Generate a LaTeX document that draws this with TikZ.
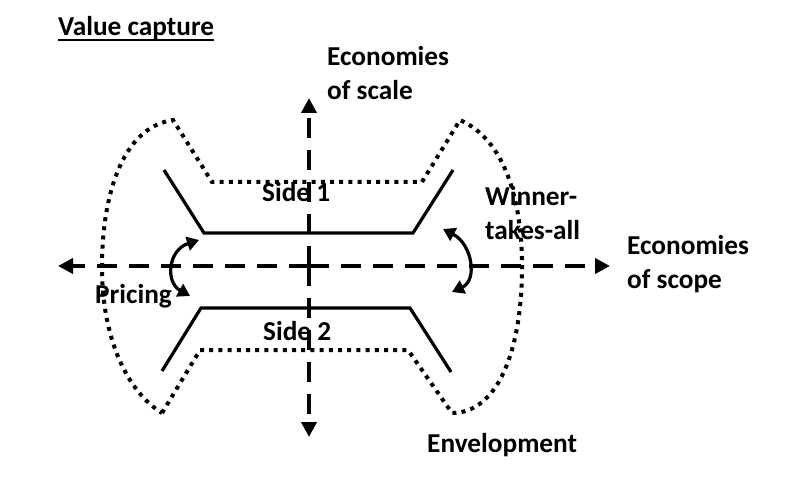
\documentclass[tikz,border=0pt]{standalone}
\usepackage{fontspec}
\setmainfont{Carlito}
\usetikzlibrary{arrows.meta}
\begin{document}
\begin{tikzpicture}[x=1pt,y=-1pt,
  lbl/.style={inner sep=0pt,anchor=base west,align=left,font=\fontsize{27.3}{34}\selectfont\bfseries},
  axis/.style={line width=4pt,dash pattern=on 20pt off 12pt,-{Triangle[length=15pt,width=15pt]}},
  solidline/.style={line width=3.2pt,line join=miter},
  env/.style={line width=4pt,dash pattern=on 4pt off 5.2pt},
  turn/.style={line width=3.2pt,{Triangle[length=12pt,width=14pt]}-{Triangle[length=12pt,width=14pt]}}]
\useasboundingbox (0,0) rectangle (794,494);
% axes
\coordinate (o) at (309,266);
\coordinate (xl) at (58,266);
\coordinate (xr) at (610,266);
\coordinate (yt) at (309,98);
\coordinate (yb) at (309,437);
\draw[axis] (o) -- (xl);
\draw[axis] (o) -- (xr);
\draw[axis] (o) -- (yt);
\draw[axis] (o) -- (yb);
% sides
\coordinate (a1) at (164,170);
\coordinate (a2) at (204,233);
\coordinate (a3) at (413,233);
\coordinate (a4) at (453,170);
\draw[solidline] (a1) -- (a2) -- (a3) -- (a4);
\coordinate (b1) at (162,371);
\coordinate (b2) at (201,308);
\coordinate (b3) at (410,308);
\coordinate (b4) at (451,372);
\draw[solidline] (b1) -- (b2) -- (b3) -- (b4);
% envelope
\coordinate (e1) at (162,413);
\coordinate (e2) at (200,350);
\coordinate (e3) at (408,350);
\coordinate (e4) at (452,413);
\coordinate (e5) at (522,267);
\coordinate (e6) at (460,120);
\coordinate (e7) at (422,182);
\coordinate (e8) at (212,182);
\coordinate (e9) at (173,120);
\coordinate (e10) at (102,267);
\draw[env] (e1) -- (e2) -- (e3) -- (e4)
  .. controls (498,413) and (522,350) .. (e5)
  .. controls (522,200) and (505,140) .. (e6)
  -- (e7) -- (e8) -- (e9)
  .. controls (120,128) and (102,200) .. (e10)
  .. controls (102,340) and (128,392) .. (e1);
% curved arrows
\coordinate (p1) at (199,240);
\coordinate (p2) at (190,296);
\draw[turn] (p1) .. controls (168,250) and (165,282) .. (p2);
\coordinate (w1) at (443,229);
\coordinate (w2) at (452,292);
\draw[turn] (w1) .. controls (472,244) and (478,280) .. (w2);
% labels
\node[lbl] (vc) at (58,36) {Value capture};
\draw[line width=2pt] ([yshift=-4pt]vc.base west) -- ([yshift=-4pt]vc.base east);
\node[lbl] (scale) at (327,100) {Economies\\of scale};
\node[lbl] (scope) at (627,288) {Economies\\of scope};
\node[lbl] (envl) at (427,452) {Envelopment};
\node[lbl] (s1) at (262,202) {Side 1};
\node[lbl] (s2) at (263,340) {Side 2};
\node[lbl] (pr) at (95,303) {Pricing};
\node[lbl] (wta) at (485,240) {Winner-\\takes-all};
\end{tikzpicture}
\end{document}
